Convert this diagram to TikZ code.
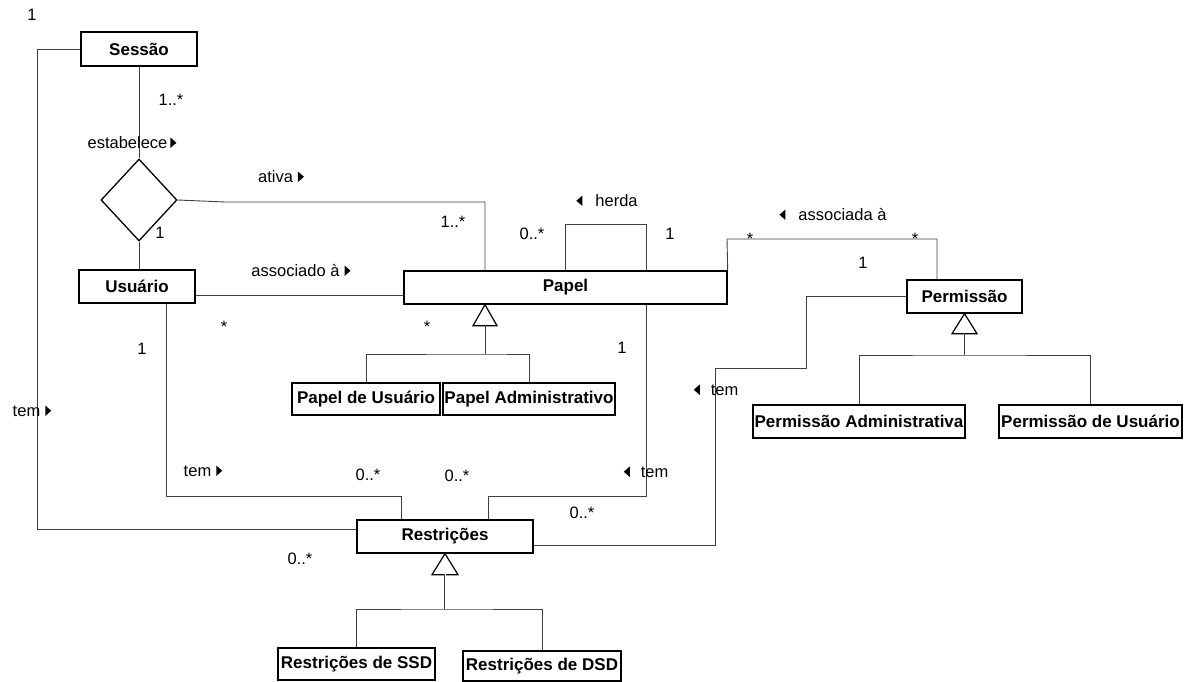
\documentclass[tikz,border=0pt]{standalone}
\usepackage{fontspec}
\setmainfont{Liberation Sans}
\usetikzlibrary{shapes.geometric}
% small filled arrowheads that give the reading direction of an association name
\newcommand{\rtri}{\tikz[baseline=0pt]\fill[black] (0pt,0pt) -- (0pt,10.5pt) -- (6pt,5.25pt) -- cycle;}
\newcommand{\ltri}{\tikz[baseline=0pt]\fill[black] (6pt,0pt) -- (6pt,10.5pt) -- (0pt,5.25pt) -- cycle;}
\begin{document}
\begin{tikzpicture}[x=1pt,y=-1pt,
  cls/.style={draw=black, line width=1.4pt, fill=white, inner sep=0pt,
    font=\bfseries\fontsize{17}{20}\selectfont},
  conn/.style={draw=black!75, line width=0.9pt},
  lbl/.style={inner sep=0pt, anchor=base, font=\fontsize{16.5}{20}\selectfont},
  gen/.style={draw=black, line width=1.2pt, fill=white, line join=miter}]
\useasboundingbox (0,0) rectangle (1188,682);

% classes
\node[cls, minimum width=116pt, minimum height=34pt] (ses) at (139,49) {Sessão};
\node[draw=black, line width=1.3pt, shape=diamond, minimum width=76pt,
      minimum height=82pt, inner sep=0pt] (dia) at (139,200) {};
\node[cls, minimum width=116pt, minimum height=33pt] (usu) at (137,286.5) {Usuário};
\node[cls, minimum width=323pt, minimum height=33pt] (pap) at (565.5,287.5) {Papel};
\node[cls, minimum width=115pt, minimum height=33pt] (per) at (964.5,296.5) {Permissão};
\node[cls, minimum width=148pt, minimum height=32pt] (pu) at (366,399) {Papel de Usuário};
\node[cls, minimum width=172pt, minimum height=32pt] (pa) at (529,399) {Papel Administrativo};
\node[cls, minimum width=212pt, minimum height=33pt] (pad) at (859,421.5) {Permissão Administrativa};
\node[cls, minimum width=183pt, minimum height=33pt] (pus) at (1090.5,421.5) {Permissão de Usuário};
\node[cls, minimum width=176pt, minimum height=33pt] (res) at (445,536.5) {Restrições};
\node[cls, minimum width=157pt, minimum height=32pt] (ssd) at (356.5,664) {Restrições de SSD};
\node[cls, minimum width=158pt, minimum height=30pt] (dsd) at (542,666) {Restrições de DSD};

% associations
\draw[conn] (ses.west) -- (37,49) |- (res.west |- 0,529);
\draw[conn] (ses.south) -- (dia.north);
\draw[conn] (dia.south) -- (dia.south |- usu.north);
\draw[conn] (dia.east) -- (225,202) -| (pap.north -| 485,0);
\draw[conn] (usu.east |- 0,295) -- (pap.west |- 0,295);
\draw[conn] (usu.south -| 166,0) -- (166,496) -| (res.north -| 401,0);
\draw[conn] (pap.south -| 646,0) -- (646,496) -| (res.north -| 488,0);
\draw[conn] (pap.north -| 565,0) |- (646,224) -- (pap.north -| 646,0);
\draw[conn] (pap.north east) -- (727,239) -| (per.north -| 937,0);
\draw[conn] (per.west) -| (806,368) -| (715,545) -- (res.east |- 0,545);

% generalisation: Papel
\draw[gen] (pap.south -| 485,0) -- ++(-12,21) -- ++(24,0) -- cycle;
\draw[conn] (485,325) -- (485,354);
\draw[conn] (pu.north) |- (485,354) -| (pa.north);

% generalisation: Permissão
\draw[gen] (per.south) -- ++(-12.5,20) -- ++(25,0) -- cycle;
\draw[conn] (964.5,333) -- (964.5,355);
\draw[conn] (pad.north) |- (964.5,355) -| (pus.north);

% generalisation: Restrições
\draw[gen] (res.south) -- ++(-13,21) -- ++(26,0) -- cycle;
\draw[draw=black!75, line width=0.8pt, double distance=1pt] (445,574) -- (445,609);
\draw[conn] (ssd.north) |- (445,609) -| (dsd.north);

% multiplicities and association names
\node[lbl] (m1) at (32,21) {1};
\node[lbl] (m2) at (171,106) {1..*};
\node[lbl] (n1) at (132,148) {estabelece\hspace{3pt}\rtri};
\node[lbl] (n2) at (281,182) {ativa\hspace{5pt}\rtri};
\node[lbl] (m3) at (160,238) {1};
\node[lbl] (m4) at (453,227) {1..*};
\node[lbl] (n3) at (607,206) {\ltri\hspace{13pt}herda};
\node[lbl] (m5) at (532,239) {0..*};
\node[lbl] (m6) at (670,239) {1};
\node[lbl] (n4) at (301,276) {associado à\hspace{5pt}\rtri};
\node[lbl] (m7) at (224,332) {*};
\node[lbl] (m8) at (427,332) {*};
\node[lbl] (m9) at (622,353) {1};
\node[lbl] (m10) at (142,354) {1};
\node[lbl] (n5) at (833,220) {\ltri\hspace{13pt}associada à};
\node[lbl] (m11) at (750,244) {*};
\node[lbl] (m12) at (915,244) {*};
\node[lbl] (m13) at (863,268) {1};
\node[lbl] (n6) at (716,395) {\ltri\hspace{11pt}tem};
\node[lbl] (n7) at (32,416) {tem\hspace{5pt}\rtri};
\node[lbl] (n8) at (203,476) {tem\hspace{5pt}\rtri};
\node[lbl] (m14) at (368,480) {0..*};
\node[lbl] (m15) at (457,481) {0..*};
\node[lbl] (n9) at (646,477) {\ltri\hspace{11pt}tem};
\node[lbl] (m16) at (582,518) {0..*};
\node[lbl] (m17) at (300,564) {0..*};
\end{tikzpicture}
\end{document}
